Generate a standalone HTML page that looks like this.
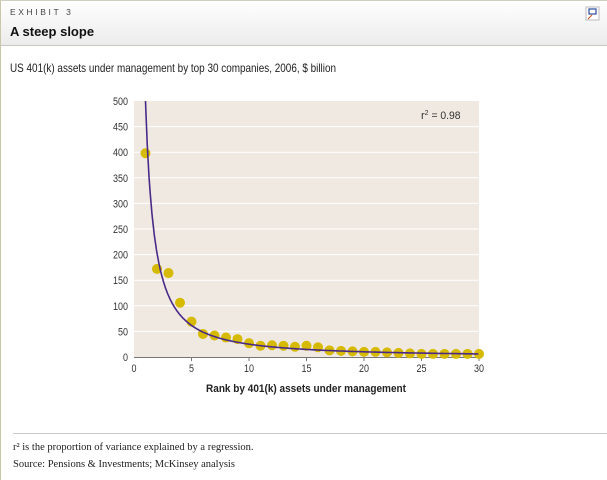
<!DOCTYPE html>
<html><head><meta charset="utf-8"><style>
html,body{margin:0;padding:0;background:#fff;width:607px;height:480px;overflow:hidden}
svg{display:block}
</style></head><body>
<svg id="s" width="607" height="480" xmlns="http://www.w3.org/2000/svg" font-family="Liberation Sans, sans-serif">
<defs><linearGradient id="hg" x1="0" y1="0" x2="0" y2="1"><stop offset="0" stop-color="#ffffff"/><stop offset="1" stop-color="#ececec"/></linearGradient></defs>
<rect x="0" y="0" width="607" height="45" fill="url(#hg)"/>
<line x1="0" y1="45.5" x2="607" y2="45.5" stroke="#c8c8c0"/>
<line x1="0.5" y1="0" x2="0.5" y2="480" stroke="#c8c8a8"/>
<line x1="0" y1="0.5" x2="607" y2="0.5" stroke="#d0d0c0"/>
<text x="10" y="15" font-size="8.5" fill="#444" letter-spacing="2.6">EXHIBIT 3</text>
<text x="10" y="36" font-size="13" font-weight="bold" fill="#111">A steep slope</text>
<rect x="586" y="7" width="13" height="13" fill="#fff" stroke="#bbb"/>
<rect x="589" y="9" width="7" height="5" fill="none" stroke="#2a4a9a" stroke-width="1.2"/>
<path d="M588 19 L592 15" stroke="#d05020" stroke-width="1"/>
<text x="10" y="72" font-size="12" fill="#222" textLength="326" lengthAdjust="spacingAndGlyphs">US 401(k) assets under management by top 30 companies, 2006, $ billion</text>
<rect x="134" y="101" width="345" height="256" fill="#f0e9e1"/>
<g id="grid" stroke="#fff" stroke-width="1"></g>
<g id="yl" font-size="11" fill="#333" text-anchor="end"></g>
<g id="xl" font-size="11" fill="#333" text-anchor="middle"></g>
<line x1="134" y1="357.5" x2="479" y2="357.5" stroke="#777"/>
<g id="dots" fill="#d6ba00"></g>
<path id="curve" fill="none" stroke="#4a2a88" stroke-width="1.6"/>
<text x="421" y="119" font-size="11" fill="#333">r<tspan font-size="7" dy="-4">2</tspan><tspan dy="4" textLength="32" lengthAdjust="spacingAndGlyphs"> = 0.98</tspan></text>
<text x="306" y="392" font-size="11" font-weight="bold" fill="#222" text-anchor="middle" textLength="200" lengthAdjust="spacingAndGlyphs">Rank by 401(k) assets under management</text>
<line x1="13" y1="433.5" x2="607" y2="433.5" stroke="#ccc"/>
<text x="13" y="450" font-size="10.5" fill="#222" font-family="Liberation Serif, serif">r² is the proportion of variance explained by a regression.</text>
<text x="13" y="467" font-size="10.5" fill="#222" font-family="Liberation Serif, serif">Source: Pensions &amp; Investments; McKinsey analysis</text>
</svg>
<script>
var NS="http://www.w3.org/2000/svg";
function X(x){return 134+11.5*x}function Y(v){return 357-0.512*v}
function el(t,a,p,txt){var e=document.createElementNS(NS,t);for(var k in a)e.setAttribute(k,a[k]);if(txt!=null)e.textContent=txt;document.getElementById(p).appendChild(e);}
for(var v=0;v<=500;v+=50){if(v>0&&v<500)el('line',{x1:134,x2:479,y1:Y(v),y2:Y(v)},'grid');var s=String(v);el('text',{x:128,y:Y(v)+4,textLength:s.length*5,lengthAdjust:'spacingAndGlyphs'},'yl',s);}
for(var x=0;x<=30;x+=5){var s=String(x);el('text',{x:X(x),y:372,textLength:s.length*5,lengthAdjust:'spacingAndGlyphs'},'xl',s);if(x>0)el('line',{x1:X(x),x2:X(x),y1:357,y2:361,stroke:'#777'},'grid');}
var d=[398,172,164,106,69,45,42,38,35,27,22,23,22,20,22,19,13,12,11,10,10,9,8,7,6,6,6,6,6,6];
d.forEach(function(v,i){el('circle',{cx:X(i+1),cy:Y(v),r:5},'dots');});
var p="";for(var x=1;x<=30;x+=0.05){var v=500*Math.pow(x,-1.3);p+=(p?"L":"M")+X(x).toFixed(1)+" "+Y(v).toFixed(1);}
document.getElementById('curve').setAttribute('d',p);
</script>
</body></html>
